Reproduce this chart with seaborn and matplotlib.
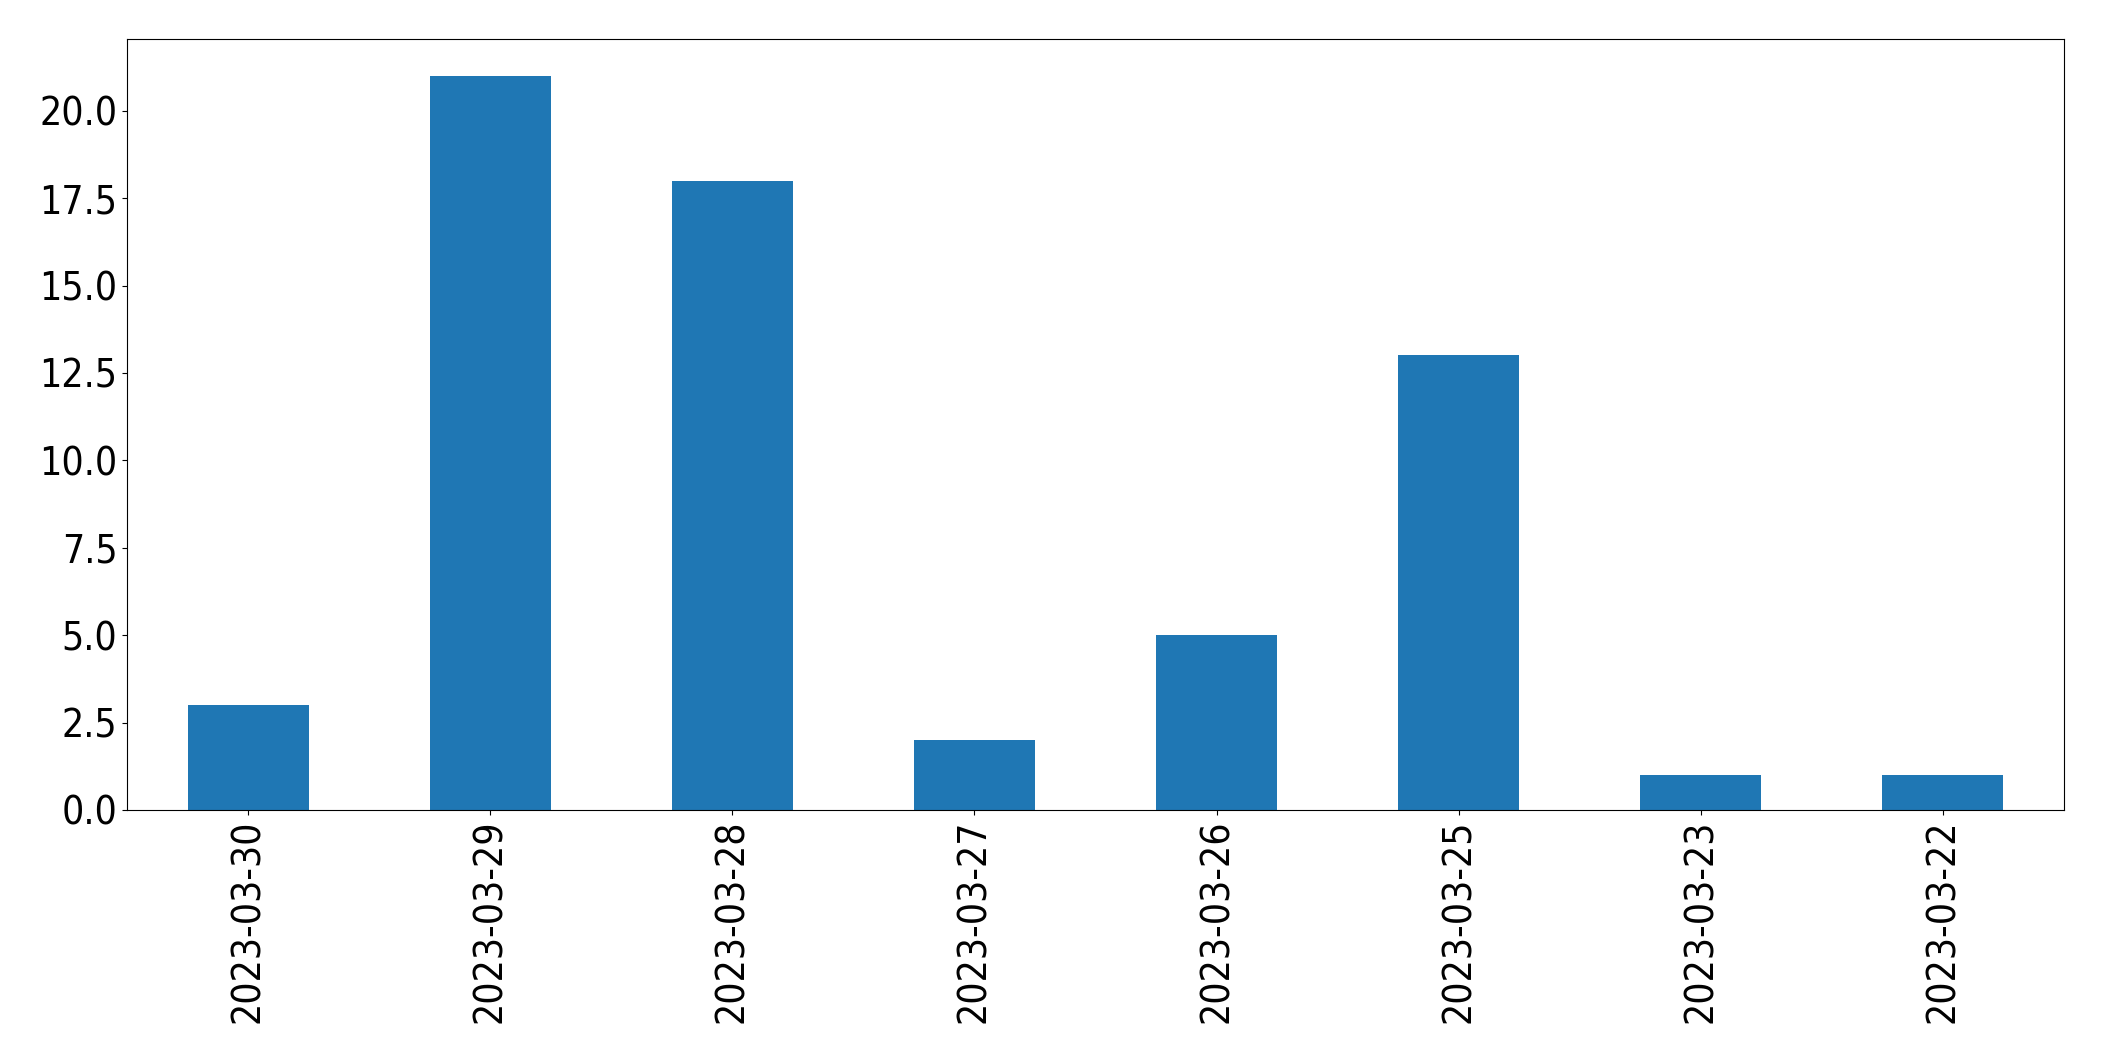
import matplotlib
matplotlib.use("Agg")
import matplotlib.pyplot as plt
from matplotlib.ticker import MultipleLocator, FormatStrFormatter
import pandas as pd
import seaborn as sns

# Data
dates = ['2023-03-30', '2023-03-29', '2023-03-28', '2023-03-27',
         '2023-03-26', '2023-03-25', '2023-03-23', '2023-03-22']
counts = [3, 21, 18, 2, 5, 13, 1, 1]

df = pd.DataFrame({'date': dates, 'count': counts})

fig = plt.figure(figsize=(21.04, 10.61), dpi=100)
ax = fig.add_axes([0.0604, 0.2366, 0.9206, 0.7266])

sns.barplot(data=df, x='date', y='count', order=dates, color='#1f77b4',
            saturation=1, width=0.5, ax=ax)

ax.set_xlim(-0.5, len(dates) - 0.5)
ax.set_ylim(0, max(counts) * 1.05)
ax.yaxis.set_major_locator(MultipleLocator(2.5))
ax.yaxis.set_major_formatter(FormatStrFormatter('%.1f'))
ax.set_xlabel('')
ax.set_ylabel('')
ax.tick_params(axis='x', labelrotation=90)
for lbl in ax.get_xticklabels() + ax.get_yticklabels():
    lbl.set_fontsize(28)
    lbl.set_fontstretch('condensed')

fig.savefig('out.png', dpi=100)
